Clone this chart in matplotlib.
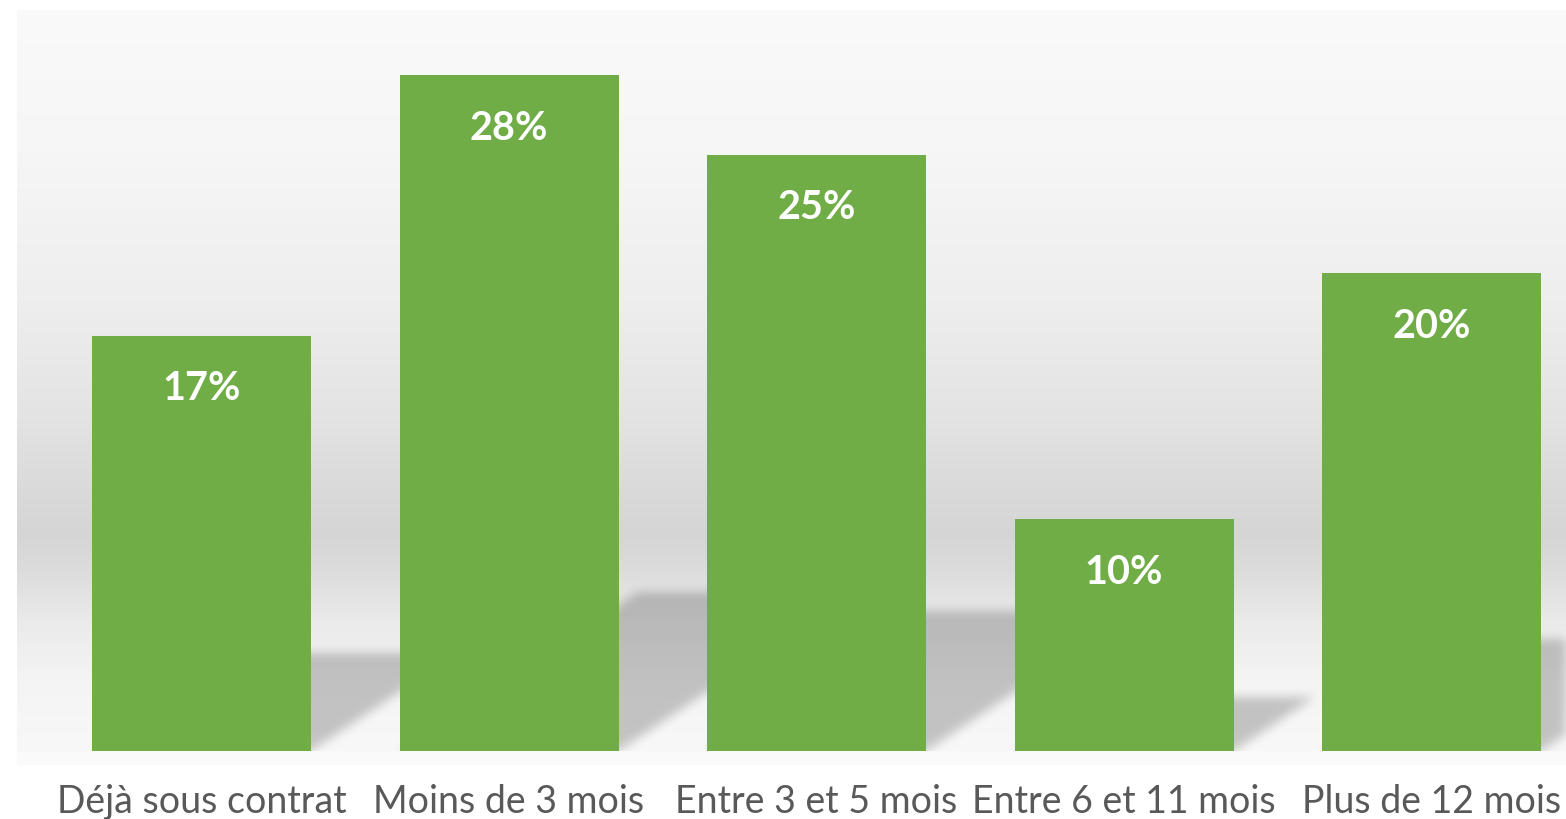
import numpy as np
import matplotlib
matplotlib.use("Agg")
import matplotlib.pyplot as plt

# ---- data ----
categories = ["Déjà sous contrat", "Moins de 3 mois", "Entre 3 et 5 mois",
              "Entre 6 et 11 mois", "Plus de 12 mois"]
values = [17.2, 28.0, 24.7, 9.6, 19.8]
value_labels = ["17%", "28%", "25%", "10%", "20%"]

# ---- figure / layout ----
W, H, DPI = 1566, 819, 100
fig = plt.figure(figsize=(W / DPI, H / DPI), dpi=DPI)
fig.patch.set_facecolor("white")

left_px, top_px, bottom_px = 17, 10, 765
ax = fig.add_axes([left_px / W, (H - bottom_px) / H,
                   1 - left_px / W, (bottom_px - top_px) / H])
XLIM = (-0.6, 4.437)
YLIM = (-0.58, 30.70)

x = np.arange(len(categories))
bars = ax.bar(x, values, width=0.712, color="#70AD47", zorder=3)

# ---- background gradient (in axes pixels) ----
Wa, Ha = W - left_px, bottom_px - top_px
stops_px = [10, 150, 300, 420, 490, 535, 570, 620, 680, 751, 752, 765]
grays = [250, 246, 238, 227, 218, 213, 220, 234, 244, 248, 250, 250]
ys = np.arange(top_px, bottom_px) + 0.5
prof = np.interp(ys, stops_px, grays)
bg = np.repeat(prof[:, None], Wa, axis=1)
bg_rgb = np.dstack([bg, bg, bg]).astype(np.uint8)
ax.imshow(bg_rgb, extent=[0, 1, 0, 1], transform=ax.transAxes,
          aspect="auto", zorder=0, interpolation="nearest")

# ---- soft perspective shadows derived from the bars ----
def to_px_x(v):
    return (v - XLIM[0]) / (XLIM[1] - XLIM[0]) * Wa

def to_px_y(v):
    return (v - YLIM[0]) / (YLIM[1] - YLIM[0]) * Ha

cols = np.arange(Wa) + 0.5
rows_up = (Ha - np.arange(Ha) - 0.5)  # pixel height from axes bottom (row 0 = top)
PX, PY = np.meshgrid(cols, rows_up)
base = to_px_y(0)
S = PY - base
mask = np.zeros((Ha, Wa))
k = 1.5
for b in bars:
    xl = to_px_x(b.get_x())
    xr = to_px_x(b.get_x() + b.get_width())
    hs = 0.235 * (to_px_y(b.get_height()) - base)
    inside = (S >= 0) & (S <= hs) & (PX >= xl + k * S) & (PX <= xr + k * S)
    mask = np.maximum(mask, inside.astype(float))

sigma = 5.0
r = int(3 * sigma)
kern = np.exp(-0.5 * (np.arange(-r, r + 1) / sigma) ** 2)
kern /= kern.sum()
blur = np.apply_along_axis(lambda m: np.convolve(m, kern, mode="same"), 1, mask)
blur = np.apply_along_axis(lambda m: np.convolve(m, kern, mode="same"), 0, blur)
blur[S < 0] = 0
shadow = np.zeros((Ha, Wa, 4))
shadow[..., 3] = 0.21 * blur
ax.imshow(shadow, extent=[0, 1, 0, 1], transform=ax.transAxes,
          aspect="auto", zorder=1, interpolation="nearest")

# ---- value labels ----
for xi, v, lab in zip(x, values, value_labels):
    ax.annotate(lab, (xi, v), xytext=(0, -53), textcoords="offset pixels",
                ha="center", va="center", color="white", fontsize=28.5,
                fontweight="bold", family="Lato", zorder=4)

# ---- axes styling ----
ax.set_xlim(*XLIM)
ax.set_ylim(*YLIM)
ax.set_xticks(x)
ax.set_xticklabels(categories, fontsize=27, color="#595959", family="Lato")
ax.tick_params(axis="x", length=0, pad=13.5)
ax.set_yticks([])
for sp in ax.spines.values():
    sp.set_visible(False)
ax.set_facecolor("#fafafa")

fig.savefig("out.png", dpi=DPI, facecolor="white")
